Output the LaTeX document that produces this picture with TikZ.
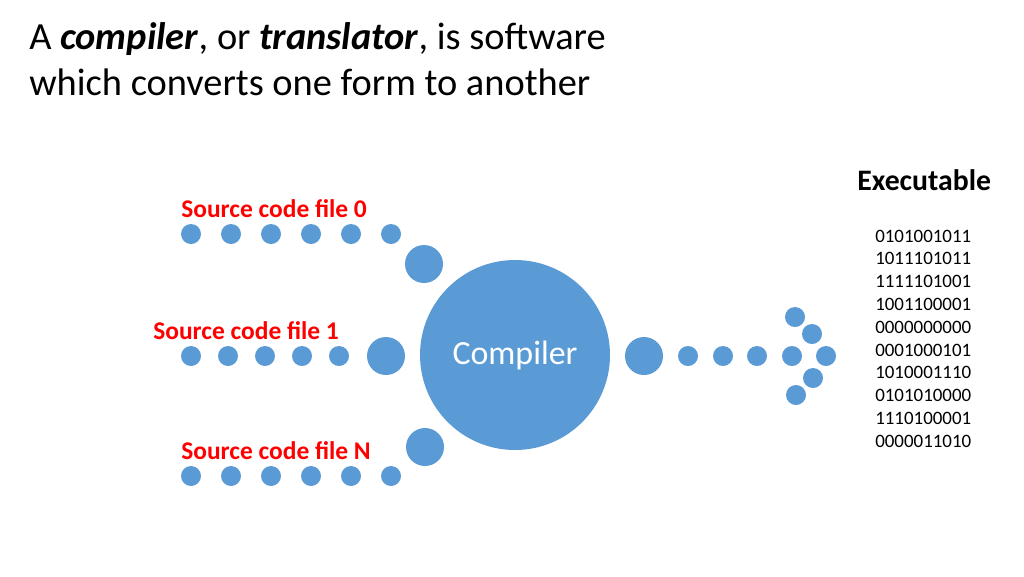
\documentclass[tikz,border=0pt]{standalone}
\usepackage{fontspec}
\setmainfont{Carlito}
\definecolor{dotblue}{RGB}{91,155,213}
\definecolor{srcred}{RGB}{255,0,0}
\begin{document}
\begin{tikzpicture}[x=0.75pt,y=-0.75pt,
  dot/.style={circle,fill=dotblue,draw=none,minimum size=20*0.75pt,inner sep=0pt},
  bigdot/.style={circle,fill=dotblue,draw=none,minimum size=38*0.75pt,inner sep=0pt},
  srclabel/.style={anchor=base west,inner sep=0pt,text=srcred,font=\fontsize{19.1}{22}\selectfont\bfseries},
  bits/.style={anchor=base west,inner sep=0pt,font=\fontsize{14.2}{17}\selectfont},
  titletext/.style={anchor=base west,inner sep=0pt,font=\fontsize{28.8}{34}\selectfont}]
\useasboundingbox (0,0) rectangle (1024,576);
\fill[white] (0,0) rectangle (1024,576);
% title
\node[titletext] (t1) at (29,49) {A \textbf{\textit{compiler}}, or \textbf{\textit{translator}}, is software};
\node[titletext] (t2) at (29,95) {which converts one form to another};
% compiler
\node[circle,fill=dotblue,minimum size=190*0.75pt,inner sep=0pt,text=white,font=\fontsize{25.4}{30}\selectfont] (comp) at (515,355) {Compiler};
% source 0
\node[srclabel] (l0) at (181,217) {Source code file 0};
\foreach \x [count=\i] in {191,231,271,311,351,391} \node[dot] (a\i) at (\x,234) {};
\node[bigdot] (ab) at (424,264) {};
% source 1
\node[srclabel] (l1) at (153,339) {Source code file 1};
\foreach \x [count=\i] in {191,228,265,302,339} \node[dot] (b\i) at (\x,356) {};
\node[bigdot] (bb) at (386,356) {};
% source N
\node[srclabel] (lN) at (181,459) {Source code file N};
\foreach \x [count=\i] in {191,231,271,311,351,391} \node[dot] (c\i) at (\x,476) {};
\node[bigdot] (cb) at (425,447) {};
% output
\node[bigdot] (ob) at (644,356) {};
\foreach \x [count=\i] in {688,723,757,792,826} \node[dot] (o\i) at (\x,356) {};
\node[dot] (h1) at (795,317) {};
\node[dot] (h2) at (812,334) {};
\node[dot] (h3) at (813,378) {};
\node[dot] (h4) at (796,395) {};
% executable
\node[anchor=base west,inner sep=0pt,font=\fontsize{22.3}{26}\selectfont\bfseries] (ex) at (857,190) {Executable};
\foreach \s [count=\i] in {0101001011,1011101011,1111101001,1001100001,0000000000,0001000101,1010001110,0101010000,1110100001,0000011010}
  \node[bits] (bit\i) at (875,{242+22.8*(\i-1)}) {\s};
\end{tikzpicture}
\end{document}
